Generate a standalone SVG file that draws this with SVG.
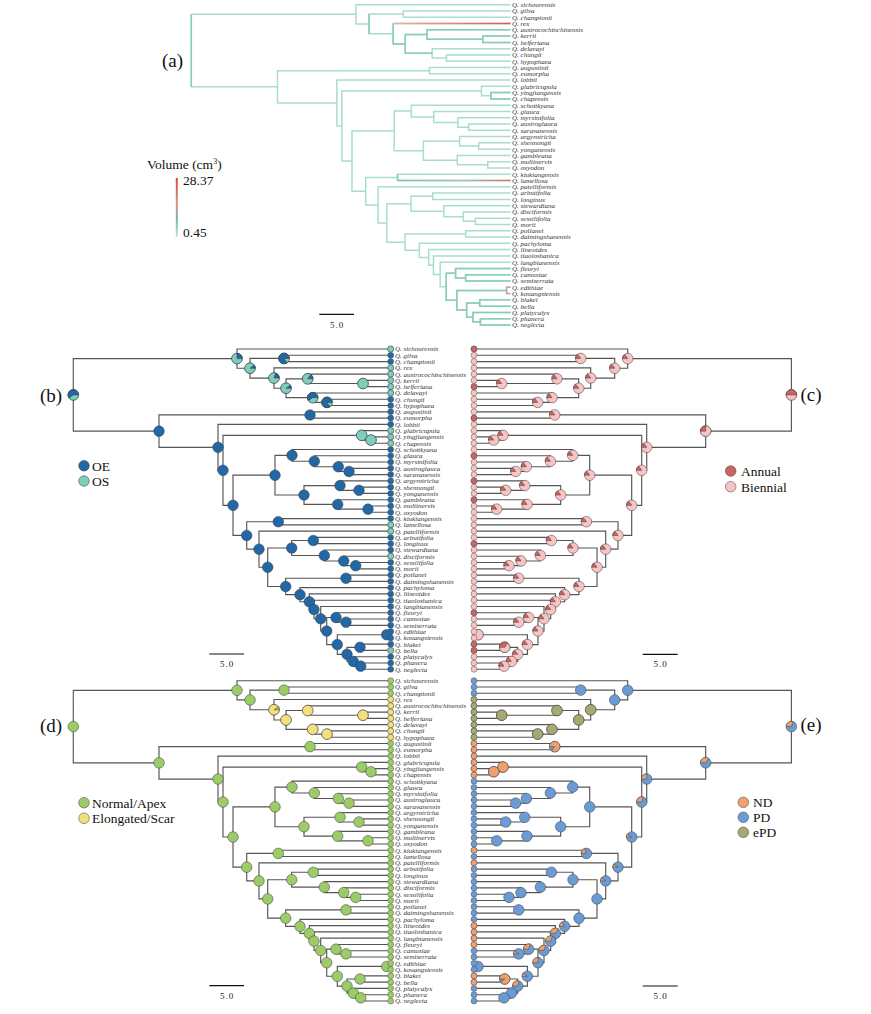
<svg xmlns="http://www.w3.org/2000/svg" width="871" height="1014" viewBox="0 0 871 1014">
<defs>
<style>
.lbl{font-family:"Liberation Serif","Times New Roman",serif;font-style:italic;font-size:7px;fill:#333}
.pl{font-family:"Liberation Serif","Times New Roman",serif;font-size:19px;fill:#111;text-anchor:middle}
.lg{font-family:"Liberation Serif","Times New Roman",serif;font-size:13.5px;fill:#111}
.sb{font-family:"Liberation Serif","Times New Roman",serif;font-size:9px;fill:#222;text-anchor:middle;letter-spacing:1px}
.edge{fill:none;stroke:#555;stroke-width:1.15}
.aedge{fill:none;stroke:#a9ddd0;stroke-width:1.5}
.pie{stroke:#3a3a3a;stroke-width:0.5}
.tip{stroke:#555;stroke-width:0.5}
</style>
<linearGradient id="grRex" gradientUnits="userSpaceOnUse" x1="274" y1="0" x2="390.7" y2="0"><stop offset="0" stop-color="#eab0a2"/><stop offset="1" stop-color="#d9574f"/></linearGradient>
<linearGradient id="grLam" gradientUnits="userSpaceOnUse" x1="278.3" y1="0" x2="390.7" y2="0"><stop offset="0" stop-color="#7cc4b0"/><stop offset="0.6" stop-color="#9fc2ae"/><stop offset="1" stop-color="#d9706a"/></linearGradient>
<linearGradient id="grBar" x1="0" y1="0" x2="0" y2="1"><stop offset="0" stop-color="#d94a40"/><stop offset="0.45" stop-color="#d99383"/><stop offset="0.7" stop-color="#6fb8a2"/><stop offset="1" stop-color="#bde7da"/></linearGradient>
<path id="tree" d="M237,358.62H73.3V431.15H159M390.7,349H237V368.23H250M284,358.42H250V378.05H274M390.7,355.28H284V361.56H390.7M390.7,367.84H274V388.25H286M307.7,378.83H286V397.67H312.7M390.7,374.12H307.7V383.54H363M390.7,380.4H363V386.68H390.7M390.7,392.96H312.7V402.38H327M390.7,399.24H327V405.52H390.7M310,414.94H159V447.35H218M390.7,411.8H310V418.08H390.7M390.7,424.36H218V470.34H223M361.7,435.35H223V505.32H233M390.7,430.64H361.7V440.06H371M390.7,436.92H371V443.2H390.7M275,475.19H233V535.44H246.7M292,455.37H275V495.01H304M390.7,449.48H292V461.26H314.3M390.7,455.76H314.3V466.75H338.3M390.7,462.04H338.3V471.46H349M390.7,468.32H349V474.6H390.7M340,485.59H304V504.43H337.7M390.7,480.88H340V490.3H359M390.7,487.16H359V493.44H390.7M390.7,499.72H337.7V509.14H368M390.7,506H368V512.28H390.7M278.3,521.7H246.7V549.18H259M390.7,518.56H278.3V524.84H390.7M390.7,531.12H259V567.23H267.7M291.7,548H267.7V586.45H285.7M313.3,540.54H291.7V555.46H324.3M390.7,537.4H313.3V543.68H390.7M390.7,549.96H324.3V560.95H343.7M390.7,556.24H343.7V565.66H355.7M390.7,562.52H355.7V568.8H390.7M346,578.22H285.7V594.67H300M390.7,575.08H346V581.36H390.7M390.7,587.64H300V601.7H309.3M390.7,593.92H309.3V609.48H314M390.7,600.2H314V618.75H320.7M390.7,606.48H320.7V631.02H326.7M336,617.47H326.7V644.56H337.3M390.7,612.76H336V622.18H346M390.7,619.04H346V625.32H390.7M386.7,634.74H337.3V654.37H347M390.7,631.6H386.7V637.88H390.7M360,647.3H347V661.43H353.3M390.7,644.16H360V650.44H390.7M390.7,656.72H353.3V666.14H360.7M390.7,663H360.7V669.28H390.7"/>
<g id="tipc">
<circle cx="390.7" cy="349" r="3"/><circle cx="390.7" cy="355.28" r="3"/><circle cx="390.7" cy="361.56" r="3"/><circle cx="390.7" cy="367.84" r="3"/><circle cx="390.7" cy="374.12" r="3"/><circle cx="390.7" cy="380.4" r="3"/><circle cx="390.7" cy="386.68" r="3"/><circle cx="390.7" cy="392.96" r="3"/><circle cx="390.7" cy="399.24" r="3"/><circle cx="390.7" cy="405.52" r="3"/><circle cx="390.7" cy="411.8" r="3"/><circle cx="390.7" cy="418.08" r="3"/><circle cx="390.7" cy="424.36" r="3"/><circle cx="390.7" cy="430.64" r="3"/><circle cx="390.7" cy="436.92" r="3"/><circle cx="390.7" cy="443.2" r="3"/><circle cx="390.7" cy="449.48" r="3"/><circle cx="390.7" cy="455.76" r="3"/><circle cx="390.7" cy="462.04" r="3"/><circle cx="390.7" cy="468.32" r="3"/><circle cx="390.7" cy="474.6" r="3"/><circle cx="390.7" cy="480.88" r="3"/><circle cx="390.7" cy="487.16" r="3"/><circle cx="390.7" cy="493.44" r="3"/><circle cx="390.7" cy="499.72" r="3"/><circle cx="390.7" cy="506" r="3"/><circle cx="390.7" cy="512.28" r="3"/><circle cx="390.7" cy="518.56" r="3"/><circle cx="390.7" cy="524.84" r="3"/><circle cx="390.7" cy="531.12" r="3"/><circle cx="390.7" cy="537.4" r="3"/><circle cx="390.7" cy="543.68" r="3"/><circle cx="390.7" cy="549.96" r="3"/><circle cx="390.7" cy="556.24" r="3"/><circle cx="390.7" cy="562.52" r="3"/><circle cx="390.7" cy="568.8" r="3"/><circle cx="390.7" cy="575.08" r="3"/><circle cx="390.7" cy="581.36" r="3"/><circle cx="390.7" cy="587.64" r="3"/><circle cx="390.7" cy="593.92" r="3"/><circle cx="390.7" cy="600.2" r="3"/><circle cx="390.7" cy="606.48" r="3"/><circle cx="390.7" cy="612.76" r="3"/><circle cx="390.7" cy="619.04" r="3"/><circle cx="390.7" cy="625.32" r="3"/><circle cx="390.7" cy="631.6" r="3"/><circle cx="390.7" cy="637.88" r="3"/><circle cx="390.7" cy="644.16" r="3"/><circle cx="390.7" cy="650.44" r="3"/><circle cx="390.7" cy="656.72" r="3"/><circle cx="390.7" cy="663" r="3"/><circle cx="390.7" cy="669.28" r="3"/>
</g>
<g id="nodec">
<circle cx="73.3" cy="394.89" r="5.3"/><circle cx="237" cy="358.62" r="5.3"/><circle cx="250" cy="368.23" r="5.3"/><circle cx="284" cy="358.42" r="5.3"/><circle cx="274" cy="378.05" r="5.3"/><circle cx="286" cy="388.25" r="5.3"/><circle cx="307.7" cy="378.83" r="5.3"/><circle cx="363" cy="383.54" r="5.3"/><circle cx="312.7" cy="397.67" r="5.3"/><circle cx="327" cy="402.38" r="5.3"/><circle cx="159" cy="431.15" r="5.3"/><circle cx="310" cy="414.94" r="5.3"/><circle cx="218" cy="447.35" r="5.3"/><circle cx="223" cy="470.34" r="5.3"/><circle cx="361.7" cy="435.35" r="5.3"/><circle cx="371" cy="440.06" r="5.3"/><circle cx="233" cy="505.32" r="5.3"/><circle cx="275" cy="475.19" r="5.3"/><circle cx="292" cy="455.37" r="5.3"/><circle cx="314.3" cy="461.26" r="5.3"/><circle cx="338.3" cy="466.75" r="5.3"/><circle cx="349" cy="471.46" r="5.3"/><circle cx="304" cy="495.01" r="5.3"/><circle cx="340" cy="485.59" r="5.3"/><circle cx="359" cy="490.3" r="5.3"/><circle cx="337.7" cy="504.43" r="5.3"/><circle cx="368" cy="509.14" r="5.3"/><circle cx="246.7" cy="535.44" r="5.3"/><circle cx="278.3" cy="521.7" r="5.3"/><circle cx="259" cy="549.18" r="5.3"/><circle cx="267.7" cy="567.23" r="5.3"/><circle cx="291.7" cy="548" r="5.3"/><circle cx="313.3" cy="540.54" r="5.3"/><circle cx="324.3" cy="555.46" r="5.3"/><circle cx="343.7" cy="560.95" r="5.3"/><circle cx="355.7" cy="565.66" r="5.3"/><circle cx="285.7" cy="586.45" r="5.3"/><circle cx="346" cy="578.22" r="5.3"/><circle cx="300" cy="594.67" r="5.3"/><circle cx="309.3" cy="601.7" r="5.3"/><circle cx="314" cy="609.48" r="5.3"/><circle cx="320.7" cy="618.75" r="5.3"/><circle cx="326.7" cy="631.02" r="5.3"/><circle cx="336" cy="617.47" r="5.3"/><circle cx="346" cy="622.18" r="5.3"/><circle cx="337.3" cy="644.56" r="5.3"/><circle cx="386.7" cy="634.74" r="5.3"/><circle cx="347" cy="654.37" r="5.3"/><circle cx="360" cy="647.3" r="5.3"/><circle cx="353.3" cy="661.43" r="5.3"/><circle cx="360.7" cy="666.14" r="5.3"/>
</g>
<path id="w10" d="M0,0H5.3A5.3,5.3 0 0 0 4.29,-3.12Z"/>
<path id="w15" d="M0,0H5.3A5.3,5.3 0 0 0 3.12,-4.29Z"/>
<path id="w20" d="M0,0H5.3A5.3,5.3 0 0 0 1.64,-5.04Z"/>
<path id="w25" d="M0,0H5.3A5.3,5.3 0 0 0 0,-5.3Z"/>
<path id="w30" d="M0,0H5.3A5.3,5.3 0 0 0 -1.64,-5.04Z"/>
<path id="w35" d="M0,0H5.3A5.3,5.3 0 0 0 -3.12,-4.29Z"/>
<path id="w50" d="M0,0H5.3A5.3,5.3 0 0 0 -5.3,0Z"/>
<path id="w60" d="M0,0H5.3A5.3,5.3 0 1 0 -4.29,3.12Z"/>
<path id="w85" d="M0,0H5.3A5.3,5.3 0 1 0 3.12,4.29Z"/>
<path id="w90" d="M0,0H5.3A5.3,5.3 0 1 0 4.29,3.12Z"/>
<g id="w15all">
<use href="#w15" x="237" y="358.62"/><use href="#w15" x="250" y="368.23"/><use href="#w15" x="284" y="358.42"/><use href="#w15" x="274" y="378.05"/><use href="#w15" x="286" y="388.25"/><use href="#w15" x="307.7" y="378.83"/><use href="#w15" x="363" y="383.54"/><use href="#w15" x="312.7" y="397.67"/><use href="#w15" x="327" y="402.38"/><use href="#w15" x="310" y="414.94"/><use href="#w15" x="218" y="447.35"/><use href="#w15" x="223" y="470.34"/><use href="#w15" x="361.7" y="435.35"/><use href="#w15" x="371" y="440.06"/><use href="#w15" x="233" y="505.32"/><use href="#w15" x="275" y="475.19"/><use href="#w15" x="292" y="455.37"/><use href="#w15" x="314.3" y="461.26"/><use href="#w15" x="338.3" y="466.75"/><use href="#w15" x="349" y="471.46"/><use href="#w15" x="304" y="495.01"/><use href="#w15" x="340" y="485.59"/><use href="#w15" x="359" y="490.3"/><use href="#w15" x="337.7" y="504.43"/><use href="#w15" x="368" y="509.14"/><use href="#w15" x="246.7" y="535.44"/><use href="#w15" x="278.3" y="521.7"/><use href="#w15" x="259" y="549.18"/><use href="#w15" x="267.7" y="567.23"/><use href="#w15" x="291.7" y="548"/><use href="#w15" x="313.3" y="540.54"/><use href="#w15" x="324.3" y="555.46"/><use href="#w15" x="343.7" y="560.95"/><use href="#w15" x="355.7" y="565.66"/><use href="#w15" x="285.7" y="586.45"/><use href="#w15" x="346" y="578.22"/><use href="#w15" x="300" y="594.67"/><use href="#w15" x="309.3" y="601.7"/><use href="#w15" x="314" y="609.48"/><use href="#w15" x="320.7" y="618.75"/><use href="#w15" x="326.7" y="631.02"/><use href="#w15" x="336" y="617.47"/><use href="#w15" x="346" y="622.18"/><use href="#w15" x="337.3" y="644.56"/><use href="#w15" x="347" y="654.37"/><use href="#w15" x="353.3" y="661.43"/><use href="#w15" x="360.7" y="666.14"/>
</g>
</defs>
<rect width="871" height="1014" fill="#fff"/>

<g id="connectors">
<g id="edges-a" transform="translate(191.3,-344.3) scale(1.006,1) translate(-73.3,0)">
<use href="#tree" class="aedge"/>
<path fill="none" stroke="#88ccba" stroke-width="1.5" d="M250,358.42V378.05M274,367.84V388.25H286M307.7,378.83H286V397.67H312.7M390.7,374.12H307.7V383.54H363M390.7,380.4H363V386.68H390.7M390.7,436.92H371V443.2H390.7M278.3,518.56V524.84M336,617.47H326.7V644.56H337.3M390.7,612.76H336V622.18H346M390.7,619.04H346V625.32H390.7M386.7,634.74H337.3V654.37H347M360,647.3H347V661.43H353.3M390.7,644.16H360V650.44H390.7M390.7,656.72H353.3V666.14H360.7M390.7,663H360.7V669.28H390.7M73.3,358.62V431.15"/>
<path fill="none" stroke="url(#grRex)" stroke-width="1.6" d="M274,367.84H390.7"/>
<path fill="none" stroke="url(#grLam)" stroke-width="1.5" d="M278.3,524.84H390.7"/>
<path fill="none" stroke="#c9a08c" stroke-width="1.4" d="M390.7,631.6H386.7V637.88H390.7"/>
</g>
<use id="edges-b" href="#tree" class="edge"/>
<use id="edges-c" href="#tree" class="edge" transform="translate(864.7,0) scale(-1,1)"/>
<use id="edges-d" href="#tree" class="edge" transform="translate(0,331.7)"/>
<use id="edges-e" href="#tree" class="edge" transform="translate(864.7,331.7) scale(-1,1)"/>
</g>

<g id="panel-a">
<text class="pl" x="172.5" y="67" font-size="20">(a)</text>
<text class="lg" x="147" y="168.5" font-size="12.5">Volume (cm<tspan font-size="8" dy="-4.5">3</tspan><tspan dy="4.5">)</tspan></text>
<rect x="175.8" y="178" width="2" height="59" fill="url(#grBar)"/>
<text class="lg" x="183" y="185" font-size="11.5">28.37</text>
<text class="lg" x="183" y="236.5" font-size="11.5">0.45</text>
<line x1="319.3" y1="314.3" x2="354" y2="314.3" stroke="#111" stroke-width="1.2"/>
<text class="sb" x="337" y="327.5">5.0</text>
<g id="labels-a" class="lbl" transform="translate(117,-344.3)">
<text x="395" y="351.4">Q. sichourensis</text><text x="395" y="357.68">Q. gilva</text><text x="395" y="363.96">Q. championii</text><text x="395" y="370.24">Q. rex</text><text x="395" y="376.52">Q. austrocochinchinensis</text><text x="395" y="382.8">Q. kerrii</text><text x="395" y="389.08">Q. helferiana</text><text x="395" y="395.36">Q. delavayi</text><text x="395" y="401.64">Q. chungii</text><text x="395" y="407.92">Q. hypophaea</text><text x="395" y="414.2">Q. augustinii</text><text x="395" y="420.48">Q. eumorpha</text><text x="395" y="426.76">Q. lobbii</text><text x="395" y="433.04">Q. glabricupula</text><text x="395" y="439.32">Q. yingjiangensis</text><text x="395" y="445.6">Q. chapensis</text><text x="395" y="451.88">Q. schottkyana</text><text x="395" y="458.16">Q. glauca</text><text x="395" y="464.44">Q. myrsinifolia</text><text x="395" y="470.72">Q. austroglauca</text><text x="395" y="477">Q. saravanensis</text><text x="395" y="483.28">Q. argyrotricha</text><text x="395" y="489.56">Q. shennongii</text><text x="395" y="495.84">Q. yonganensis</text><text x="395" y="502.12">Q. gambleana</text><text x="395" y="508.4">Q. multinervis</text><text x="395" y="514.68">Q. oxyodon</text><text x="395" y="520.96">Q. kiukiangensis</text><text x="395" y="527.24">Q. lamellosa</text><text x="395" y="533.52">Q. patelliformis</text><text x="395" y="539.8">Q. arbutifolia</text><text x="395" y="546.08">Q. longinux</text><text x="395" y="552.36">Q. stewardiana</text><text x="395" y="558.64">Q. disciformis</text><text x="395" y="564.92">Q. sessilifolia</text><text x="395" y="571.2">Q. morii</text><text x="395" y="577.48">Q. poilanei</text><text x="395" y="583.76">Q. daimingshanensis</text><text x="395" y="590.04">Q. pachyloma</text><text x="395" y="596.32">Q. litseoides</text><text x="395" y="602.6">Q. tiaoloshanica</text><text x="395" y="608.88">Q. langbianensis</text><text x="395" y="615.16">Q. fleuryi</text><text x="395" y="621.44">Q. camusiae</text><text x="395" y="627.72">Q. semiserrata</text><text x="395" y="634">Q. edithiae</text><text x="395" y="640.28">Q. kouangsiensis</text><text x="395" y="646.56">Q. blakei</text><text x="395" y="652.84">Q. bella</text><text x="395" y="659.12">Q. platycalyx</text><text x="395" y="665.4">Q. phanera</text><text x="395" y="671.68">Q. neglecta</text>
</g>
</g>

<g id="panel-b">
<text class="pl" x="51" y="401.5">(b)</text>
<use href="#nodec" class="pie" fill="#2268a6"/>
<g class="pie">
<circle cx="73.3" cy="394.89" r="5.3" fill="#7fcdbb"/><use href="#w60" x="73.3" y="394.89" fill="#2268a6"/>
<circle cx="237" cy="358.62" r="5.3" fill="#7fcdbb"/><use href="#w25" x="237" y="358.62" fill="#2268a6"/>
<circle cx="250" cy="368.23" r="5.3" fill="#7fcdbb"/><use href="#w10" x="250" y="368.23" fill="#2268a6"/>
<circle cx="284" cy="358.42" r="5.3" fill="#7fcdbb"/><use href="#w85" x="284" y="358.42" fill="#2268a6"/>
<circle cx="274" cy="378.05" r="5.3" fill="#7fcdbb"/><use href="#w20" x="274" y="378.05" fill="#2268a6"/>
<circle cx="286" cy="388.25" r="5.3" fill="#7fcdbb"/><use href="#w10" x="286" y="388.25" fill="#2268a6"/>
<circle cx="307.7" cy="378.83" r="5.3" fill="#7fcdbb"/><use href="#w15" x="307.7" y="378.83" fill="#2268a6"/>
<circle cx="363" cy="383.54" r="5.3" fill="#7fcdbb"/>
<circle cx="312.7" cy="397.67" r="5.3" fill="#7fcdbb"/><use href="#w60" x="312.7" y="397.67" fill="#2268a6"/>
<circle cx="327" cy="402.38" r="5.3" fill="#7fcdbb"/><use href="#w85" x="327" y="402.38" fill="#2268a6"/>
<circle cx="361.7" cy="435.35" r="5.3" fill="#7fcdbb"/>
<circle cx="371" cy="440.06" r="5.3" fill="#7fcdbb"/>
</g>
<use href="#tipc" class="tip" fill="#2268a6"/>
<g class="tip" fill="#7fcdbb">
<circle cx="390.7" cy="349" r="3"/><circle cx="390.7" cy="367.84" r="3"/><circle cx="390.7" cy="374.12" r="3"/><circle cx="390.7" cy="380.4" r="3"/><circle cx="390.7" cy="386.68" r="3"/><circle cx="390.7" cy="392.96" r="3"/><circle cx="390.7" cy="430.64" r="3"/><circle cx="390.7" cy="436.92" r="3"/><circle cx="390.7" cy="443.2" r="3"/><circle cx="390.7" cy="524.84" r="3"/><circle cx="390.7" cy="531.12" r="3"/><circle cx="390.7" cy="556.24" r="3"/><circle cx="390.7" cy="650.44" r="3"/>
</g>
<g id="labels-b" class="lbl">
<text x="395" y="351.4">Q. sichourensis</text><text x="395" y="357.68">Q. gilva</text><text x="395" y="363.96">Q. championii</text><text x="395" y="370.24">Q. rex</text><text x="395" y="376.52">Q. austrocochinchinensis</text><text x="395" y="382.8">Q. kerrii</text><text x="395" y="389.08">Q. helferiana</text><text x="395" y="395.36">Q. delavayi</text><text x="395" y="401.64">Q. chungii</text><text x="395" y="407.92">Q. hypophaea</text><text x="395" y="414.2">Q. augustinii</text><text x="395" y="420.48">Q. eumorpha</text><text x="395" y="426.76">Q. lobbii</text><text x="395" y="433.04">Q. glabricupula</text><text x="395" y="439.32">Q. yingjiangensis</text><text x="395" y="445.6">Q. chapensis</text><text x="395" y="451.88">Q. schottkyana</text><text x="395" y="458.16">Q. glauca</text><text x="395" y="464.44">Q. myrsinifolia</text><text x="395" y="470.72">Q. austroglauca</text><text x="395" y="477">Q. saravanensis</text><text x="395" y="483.28">Q. argyrotricha</text><text x="395" y="489.56">Q. shennongii</text><text x="395" y="495.84">Q. yonganensis</text><text x="395" y="502.12">Q. gambleana</text><text x="395" y="508.4">Q. multinervis</text><text x="395" y="514.68">Q. oxyodon</text><text x="395" y="520.96">Q. kiukiangensis</text><text x="395" y="527.24">Q. lamellosa</text><text x="395" y="533.52">Q. patelliformis</text><text x="395" y="539.8">Q. arbutifolia</text><text x="395" y="546.08">Q. longinux</text><text x="395" y="552.36">Q. stewardiana</text><text x="395" y="558.64">Q. disciformis</text><text x="395" y="564.92">Q. sessilifolia</text><text x="395" y="571.2">Q. morii</text><text x="395" y="577.48">Q. poilanei</text><text x="395" y="583.76">Q. daimingshanensis</text><text x="395" y="590.04">Q. pachyloma</text><text x="395" y="596.32">Q. litseoides</text><text x="395" y="602.6">Q. tiaoloshanica</text><text x="395" y="608.88">Q. langbianensis</text><text x="395" y="615.16">Q. fleuryi</text><text x="395" y="621.44">Q. camusiae</text><text x="395" y="627.72">Q. semiserrata</text><text x="395" y="634">Q. edithiae</text><text x="395" y="640.28">Q. kouangsiensis</text><text x="395" y="646.56">Q. blakei</text><text x="395" y="652.84">Q. bella</text><text x="395" y="659.12">Q. platycalyx</text><text x="395" y="665.4">Q. phanera</text><text x="395" y="671.68">Q. neglecta</text>
</g>
<g id="legend-b">
<circle class="pie" cx="84" cy="465.7" r="5.3" fill="#2268a6"/><text class="lg" x="92" y="470.5">OE</text>
<circle class="pie" cx="84" cy="481" r="5.3" fill="#7fcdbb"/><text class="lg" x="92" y="486">OS</text>
</g>
<line x1="209.3" y1="654" x2="244" y2="654" stroke="#111" stroke-width="1.2"/>
<text class="sb" x="227" y="667">5.0</text>
</g>

<g id="panel-c">
<text class="pl" x="811" y="400.5">(c)</text>
<g transform="translate(864.7,0) scale(-1,1)">
<use href="#nodec" class="pie" fill="#f8c3c3"/>
<use href="#w15all" class="pie" fill="#cd6464"/>
<g class="pie">
<circle cx="73.3" cy="394.89" r="5.3" fill="#f8c3c3"/><use href="#w50" x="73.3" y="394.89" fill="#cd6464"/>
<circle cx="159" cy="431.15" r="5.3" fill="#f8c3c3"/><use href="#w25" x="159" y="431.15" fill="#cd6464"/>
<circle cx="360" cy="647.3" r="5.3" fill="#f8c3c3"/><use href="#w35" x="360" y="647.3" fill="#cd6464"/>
<circle cx="386.7" cy="634.74" r="5.3" fill="#f8c3c3"/>
</g>
<use href="#tipc" class="tip" fill="#f8c3c3"/>
<g class="tip" fill="#cd6464">
<circle cx="390.7" cy="349" r="3"/><circle cx="390.7" cy="386.68" r="3"/><circle cx="390.7" cy="418.08" r="3"/><circle cx="390.7" cy="455.76" r="3"/><circle cx="390.7" cy="480.88" r="3"/><circle cx="390.7" cy="499.72" r="3"/><circle cx="390.7" cy="543.68" r="3"/><circle cx="390.7" cy="612.76" r="3"/><circle cx="390.7" cy="644.16" r="3"/><circle cx="390.7" cy="650.44" r="3"/>
</g>
</g>
<g id="legend-c">
<circle class="pie" cx="730.7" cy="471" r="5.3" fill="#cd6464"/><text class="lg" x="741" y="475.5">Annual</text>
<circle class="pie" cx="730.7" cy="486.7" r="5.3" fill="#f8c3c3"/><text class="lg" x="741" y="491.5">Biennial</text>
</g>
<line x1="642.7" y1="654.3" x2="677.7" y2="654.3" stroke="#111" stroke-width="1.2"/>
<text class="sb" x="660.5" y="667">5.0</text>
</g>

<g id="panel-d">
<text class="pl" x="51" y="731.5">(d)</text>
<g transform="translate(0,331.7)">
<use href="#nodec" class="pie" fill="#9bcc68"/>
<g class="pie" fill="#f3e07c">
<circle cx="274" cy="378.05" r="5.3"/><use href="#w10" x="274" y="378.05" fill="#9bcc68"/>
<circle cx="286" cy="388.25" r="5.3"/><circle cx="307.7" cy="378.83" r="5.3"/><circle cx="363" cy="383.54" r="5.3"/><circle cx="312.7" cy="397.67" r="5.3"/><circle cx="327" cy="402.38" r="5.3"/>
</g>
<use href="#tipc" class="tip" fill="#9bcc68"/>
<g class="tip" fill="#f3e07c">
<circle cx="390.7" cy="367.84" r="3"/><circle cx="390.7" cy="374.12" r="3"/><circle cx="390.7" cy="380.4" r="3"/><circle cx="390.7" cy="386.68" r="3"/><circle cx="390.7" cy="392.96" r="3"/><circle cx="390.7" cy="399.24" r="3"/><circle cx="390.7" cy="405.52" r="3"/>
</g>
<g id="labels-d" class="lbl">
<text x="395" y="351.4">Q. sichourensis</text><text x="395" y="357.68">Q. gilva</text><text x="395" y="363.96">Q. championii</text><text x="395" y="370.24">Q. rex</text><text x="395" y="376.52">Q. austrocochinchinensis</text><text x="395" y="382.8">Q. kerrii</text><text x="395" y="389.08">Q. helferiana</text><text x="395" y="395.36">Q. delavayi</text><text x="395" y="401.64">Q. chungii</text><text x="395" y="407.92">Q. hypophaea</text><text x="395" y="414.2">Q. augustinii</text><text x="395" y="420.48">Q. eumorpha</text><text x="395" y="426.76">Q. lobbii</text><text x="395" y="433.04">Q. glabricupula</text><text x="395" y="439.32">Q. yingjiangensis</text><text x="395" y="445.6">Q. chapensis</text><text x="395" y="451.88">Q. schottkyana</text><text x="395" y="458.16">Q. glauca</text><text x="395" y="464.44">Q. myrsinifolia</text><text x="395" y="470.72">Q. austroglauca</text><text x="395" y="477">Q. saravanensis</text><text x="395" y="483.28">Q. argyrotricha</text><text x="395" y="489.56">Q. shennongii</text><text x="395" y="495.84">Q. yonganensis</text><text x="395" y="502.12">Q. gambleana</text><text x="395" y="508.4">Q. multinervis</text><text x="395" y="514.68">Q. oxyodon</text><text x="395" y="520.96">Q. kiukiangensis</text><text x="395" y="527.24">Q. lamellosa</text><text x="395" y="533.52">Q. patelliformis</text><text x="395" y="539.8">Q. arbutifolia</text><text x="395" y="546.08">Q. longinux</text><text x="395" y="552.36">Q. stewardiana</text><text x="395" y="558.64">Q. disciformis</text><text x="395" y="564.92">Q. sessilifolia</text><text x="395" y="571.2">Q. morii</text><text x="395" y="577.48">Q. poilanei</text><text x="395" y="583.76">Q. daimingshanensis</text><text x="395" y="590.04">Q. pachyloma</text><text x="395" y="596.32">Q. litseoides</text><text x="395" y="602.6">Q. tiaoloshanica</text><text x="395" y="608.88">Q. langbianensis</text><text x="395" y="615.16">Q. fleuryi</text><text x="395" y="621.44">Q. camusiae</text><text x="395" y="627.72">Q. semiserrata</text><text x="395" y="634">Q. edithiae</text><text x="395" y="640.28">Q. kouangsiensis</text><text x="395" y="646.56">Q. blakei</text><text x="395" y="652.84">Q. bella</text><text x="395" y="659.12">Q. platycalyx</text><text x="395" y="665.4">Q. phanera</text><text x="395" y="671.68">Q. neglecta</text>
</g>
</g>
<g id="legend-d">
<circle class="pie" cx="84" cy="802.7" r="5.3" fill="#9bcc68"/><text class="lg" x="92" y="807.5">Normal/Apex</text>
<circle class="pie" cx="84" cy="818.3" r="5.3" fill="#f3e07c"/><text class="lg" x="92" y="823">Elongated/Scar</text>
</g>
<line x1="209.3" y1="985.7" x2="244" y2="985.7" stroke="#111" stroke-width="1.2"/>
<text class="sb" x="227" y="998.7">5.0</text>
</g>

<g id="panel-e">
<text class="pl" x="811" y="730.5">(e)</text>
<g transform="translate(864.7,331.7) scale(-1,1)">
<use href="#nodec" class="pie" fill="#6b9bd4"/>
<g class="pie" fill="#f0a06e">
<use href="#w30" x="73.3" y="394.89"/>
<use href="#w35" x="159" y="431.15"/>
<use href="#w85" x="310" y="414.94"/>
<circle cx="361.7" cy="435.35" r="5.3"/><circle cx="371" cy="440.06" r="5.3"/>
<use href="#w25" x="218" y="447.35"/>
<use href="#w30" x="223" y="470.34"/>
<use href="#w10" x="233" y="505.32"/>
<use href="#w10" x="246.7" y="535.44"/>
<use href="#w20" x="278.3" y="521.7"/>
<use href="#w10" x="259" y="549.18"/>
<use href="#w15" x="300" y="594.67"/>
<use href="#w35" x="309.3" y="601.7"/>
<use href="#w30" x="314" y="609.48"/>
<use href="#w30" x="320.7" y="618.75"/>
<use href="#w25" x="326.7" y="631.02"/>
<use href="#w30" x="336" y="617.47"/>
<use href="#w10" x="346" y="622.18"/>
<use href="#w10" x="337.3" y="644.56"/>
<use href="#w90" x="360" y="647.3"/>
<use href="#w30" x="347" y="654.37"/>
</g>
<g class="pie" fill="#a8a96e">
<circle cx="274" cy="378.05" r="5.3"/><circle cx="286" cy="388.25" r="5.3"/><circle cx="307.7" cy="378.83" r="5.3"/><circle cx="363" cy="383.54" r="5.3"/><circle cx="312.7" cy="397.67" r="5.3"/><circle cx="327" cy="402.38" r="5.3"/>
</g>
<use href="#tipc" class="tip" fill="#6b9bd4"/>
<g class="tip" fill="#a8a96e">
<circle cx="390.7" cy="367.84" r="3"/><circle cx="390.7" cy="374.12" r="3"/><circle cx="390.7" cy="380.4" r="3"/><circle cx="390.7" cy="386.68" r="3"/><circle cx="390.7" cy="392.96" r="3"/><circle cx="390.7" cy="399.24" r="3"/><circle cx="390.7" cy="405.52" r="3"/>
</g>
<g class="tip" fill="#f0a06e">
<circle cx="390.7" cy="411.8" r="3"/><circle cx="390.7" cy="418.08" r="3"/><circle cx="390.7" cy="424.36" r="3"/><circle cx="390.7" cy="430.64" r="3"/><circle cx="390.7" cy="436.92" r="3"/><circle cx="390.7" cy="443.2" r="3"/><circle cx="390.7" cy="518.56" r="3"/><circle cx="390.7" cy="531.12" r="3"/><circle cx="390.7" cy="593.92" r="3"/><circle cx="390.7" cy="600.2" r="3"/><circle cx="390.7" cy="606.48" r="3"/><circle cx="390.7" cy="612.76" r="3"/><circle cx="390.7" cy="644.16" r="3"/><circle cx="390.7" cy="650.44" r="3"/>
</g>
</g>
<g id="legend-e">
<circle class="pie" cx="743.3" cy="802.3" r="5.3" fill="#f0a06e"/><text class="lg" x="753" y="807">ND</text>
<circle class="pie" cx="743.3" cy="817.3" r="5.3" fill="#6b9bd4"/><text class="lg" x="753" y="822">PD</text>
<circle class="pie" cx="743.3" cy="832.3" r="5.3" fill="#a8a96e"/><text class="lg" x="753" y="837">ePD</text>
</g>
<line x1="642.7" y1="986" x2="677.7" y2="986" stroke="#111" stroke-width="1.2"/>
<text class="sb" x="660.5" y="999">5.0</text>
</g>
</svg>
